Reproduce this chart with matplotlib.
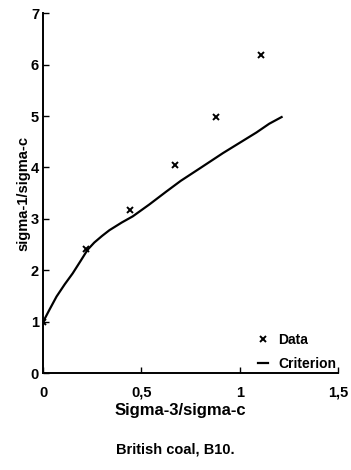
import matplotlib.pyplot as plt
import numpy as np

plt.rcParams['font.family'] = ['Liberation Sans', 'DejaVu Sans']
plt.rcParams['font.weight'] = 'bold'

# measured points
data_x = [0.0, 0.22, 0.44, 0.67, 0.88, 1.11]
data_y = [1.0, 2.41, 3.17, 4.05, 4.99, 6.19]

# fitted criterion curve
crit_x = [0.0, 0.03, 0.068, 0.11, 0.15, 0.19, 0.226, 0.26, 0.30, 0.337, 0.40,
          0.456, 0.54, 0.626, 0.70, 0.796, 0.915, 1.0, 1.085, 1.15, 1.213]
crit_y = [1.0, 1.22, 1.49, 1.73, 1.94, 2.18, 2.40, 2.54, 2.67, 2.78, 2.93,
          3.05, 3.28, 3.53, 3.74, 3.98, 4.28, 4.48, 4.68, 4.85, 4.98]

x_ticks = [0, 0.5, 1, 1.5]
x_tick_labels = ['0', '0,5', '1', '1,5']
y_ticks = [0, 1, 2, 3, 4, 5, 6, 7]

fig = plt.figure(figsize=(3.51, 4.70), dpi=100)
ax = fig.add_axes([0.123, 0.206, 0.840, 0.766])

ax.plot(crit_x, crit_y, color='black', lw=1.6, label='Criterion')
ax.plot(data_x, data_y, 'x', color='black', ms=5, mew=1.4, label='Data')

ax.set_xlim(0, 1.5)
ax.set_ylim(0, 7)
ax.set_xticks(x_ticks)
ax.set_xticklabels(x_tick_labels)
ax.set_yticks(y_ticks)
for s in ['top', 'right']:
    ax.spines[s].set_visible(False)
for s in ['left', 'bottom']:
    ax.spines[s].set_linewidth(1.4)
ax.tick_params(direction='in', length=4, width=1, labelsize=10.5)
ax.tick_params(axis='x', pad=9)
ax.tick_params(axis='y', pad=3)

ax.set_xlabel('Sigma-3/sigma-c', fontsize=12, fontweight='bold', va='center')
ax.xaxis.set_label_coords(0.465, -0.105)
ax.set_ylabel('sigma-1/sigma-c', fontsize=10.5, fontweight='bold', va='center')
ax.yaxis.set_label_coords(-0.068, 0.5)

h, l = ax.get_legend_handles_labels()
ax.legend(h[::-1], l[::-1], loc='lower left', frameon=False, fontsize=10,
          handlelength=0.75, handletextpad=0.7, labelspacing=0.75, borderpad=0,
          borderaxespad=0, bbox_to_anchor=(258 / 351, 99 / 470),
          bbox_transform=fig.transFigure)

fig.text(0.5, 1 - 450 / 470, 'British coal, B10.', ha='center', va='center',
         fontsize=10.5, fontweight='bold')

plt.savefig('out.png', dpi=100)
